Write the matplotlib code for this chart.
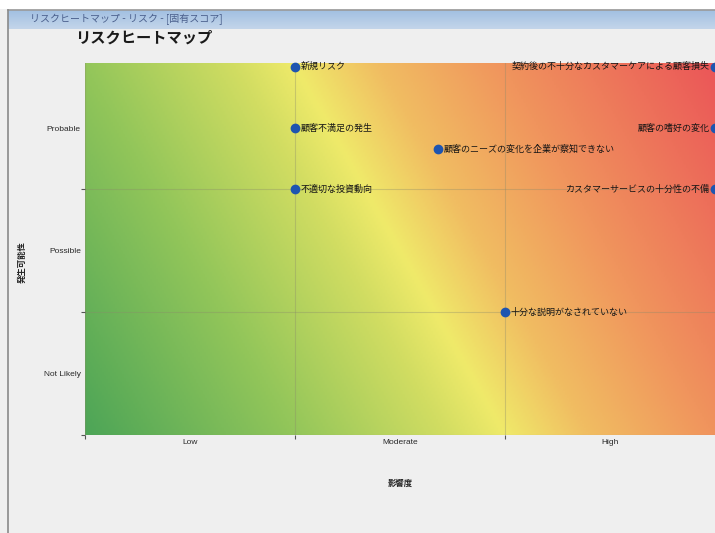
import numpy as np
import matplotlib.pyplot as plt
from matplotlib.colors import LinearSegmentedColormap
from matplotlib.patches import Rectangle
from matplotlib.lines import Line2D

plt.rcParams['font.family'] = ['Noto Sans CJK JP', 'DejaVu Sans']

# Risk items: (impact, likelihood) on a 0-3 scale
risk_names = [
    "新規リスク",
    "契約後の不十分なカスタマーケアによる顧客損失",
    "顧客不満足の発生",
    "顧客の嗜好の変化",
    "顧客のニーズの変化を企業が察知できない",
    "不適切な投資動向",
    "カスタマーサービスの十分性の不備",
    "十分な説明がなされていない",
]
impact = [1.0, 3.0, 1.0, 3.0, 1.68, 1.0, 3.0, 2.0]
likelihood = [3.0, 3.0, 2.5, 2.5, 2.33, 2.0, 2.0, 1.0]
label_side = ["right", "left", "right", "left", "right", "right", "left", "right"]

impact_labels = ["Low", "Moderate", "High"]
likelihood_labels = ["Not Likely", "Possible", "Probable"]

W, H = 715, 533
fig = plt.figure(figsize=(W / 100, H / 100), dpi=100)
fig.patch.set_facecolor("#efefef")

# window chrome
fig.add_artist(Rectangle((0, (H - 9) / H), 1, 9 / H, transform=fig.transFigure,
                         facecolor="white", edgecolor="none", zorder=0))
bar = np.linspace(0, 1, 20).reshape(-1, 1)
bar_cmap = LinearSegmentedColormap.from_list("bar", ["#c3d5ea", "#a2c0e2"])
bax = fig.add_axes([8 / W, (H - 29) / H, 1 - 8 / W, 19 / H])
bax.imshow(bar, cmap=bar_cmap, aspect="auto", extent=[0, 1, 0, 1], origin="lower")
bax.set_axis_off()
fig.add_artist(Line2D([8 / W, 1], [(H - 10) / H] * 2, transform=fig.transFigure,
                      color="#9a9a9a", lw=1.2))
fig.add_artist(Line2D([8 / W, 8 / W], [0, (H - 10) / H], transform=fig.transFigure,
                      color="#8a8a8a", lw=1.2))
fig.text(30 / W, 1 - 19 / H, "リスクヒートマップ - リスク - [固有スコア]",
         fontsize=7.2, color="#4a5f8c", va="center", ha="left")
fig.text(75 / W, 1 - 38 / H, "リスクヒートマップ", fontsize=11, fontweight="bold",
         color="#1a1a1a", va="center", ha="left")

# heat map axes
left, right, bottom, top = 85, 715, 435, 63
ax = fig.add_axes([left / W, (H - bottom) / H, (right - left) / W, (bottom - top) / H])
ax.set_xlim(0, 3)
ax.set_ylim(0, 3.03)

heat_cmap = LinearSegmentedColormap.from_list("heat", [
    (0.0, "#4da557"),
    (0.25, "#93c65a"),
    (0.43, "#d2dd62"),
    (0.5, "#efea6a"),
    (0.6, "#f1bd62"),
    (0.75, "#f0945d"),
    (1.0, "#eb5758"),
])
gx, gy = np.meshgrid(np.linspace(0, 3, 300), np.linspace(0, 3.03, 300))
score = (gx + gy / 3) / 4
ax.imshow(score, cmap=heat_cmap, vmin=0, vmax=1, origin="lower",
          extent=[0, 3, 0, 3.03], aspect="auto", interpolation="bilinear", zorder=0)

ax.set_xticks([0, 1, 2])
ax.set_yticks([0, 1, 2])
ax.set_xticklabels([])
ax.set_yticklabels([])
ax.set_xticks([0.5, 1.5, 2.5], minor=True)
ax.set_yticks([0.5, 1.5, 2.5], minor=True)
ax.set_xticklabels(impact_labels, minor=True, fontsize=6, color="#2a2a2a",
                   family=['Liberation Sans', 'DejaVu Sans'])
ax.set_yticklabels(likelihood_labels, minor=True, fontsize=6, color="#2a2a2a",
                   family=['Liberation Sans', 'DejaVu Sans'])
ax.tick_params(which="minor", length=0, pad=3)
ax.tick_params(which="major", length=3, color="#555555", width=0.8)
ax.grid(which="major", color="#8a8a6a", alpha=0.35, lw=0.8)
for s in ax.spines.values():
    s.set_visible(False)

for name, x, y, side in zip(risk_names, impact, likelihood, label_side):
    ax.plot(x, y, "o", color="#1e55b0", markersize=6, zorder=3, clip_on=False)
    if side == "right":
        ax.annotate(name, (x, y), xytext=(4, 0), textcoords="offset points",
                    ha="left", va="center", fontsize=6.5, color="#151515")
    else:
        ax.annotate(name, (x, y), xytext=(-4, 0), textcoords="offset points",
                    ha="right", va="center", fontsize=6.5, color="#151515")

fig.text(400 / W, 1 - 483 / H, "影響度", fontsize=6, fontweight="bold",
         color="#222222", ha="center", va="center")
fig.text(22 / W, 1 - 262 / H, "発生可能性", fontsize=6, fontweight="bold",
         color="#222222", ha="center", va="center", rotation=90)

fig.savefig("out.png", dpi=100, facecolor=fig.get_facecolor())
